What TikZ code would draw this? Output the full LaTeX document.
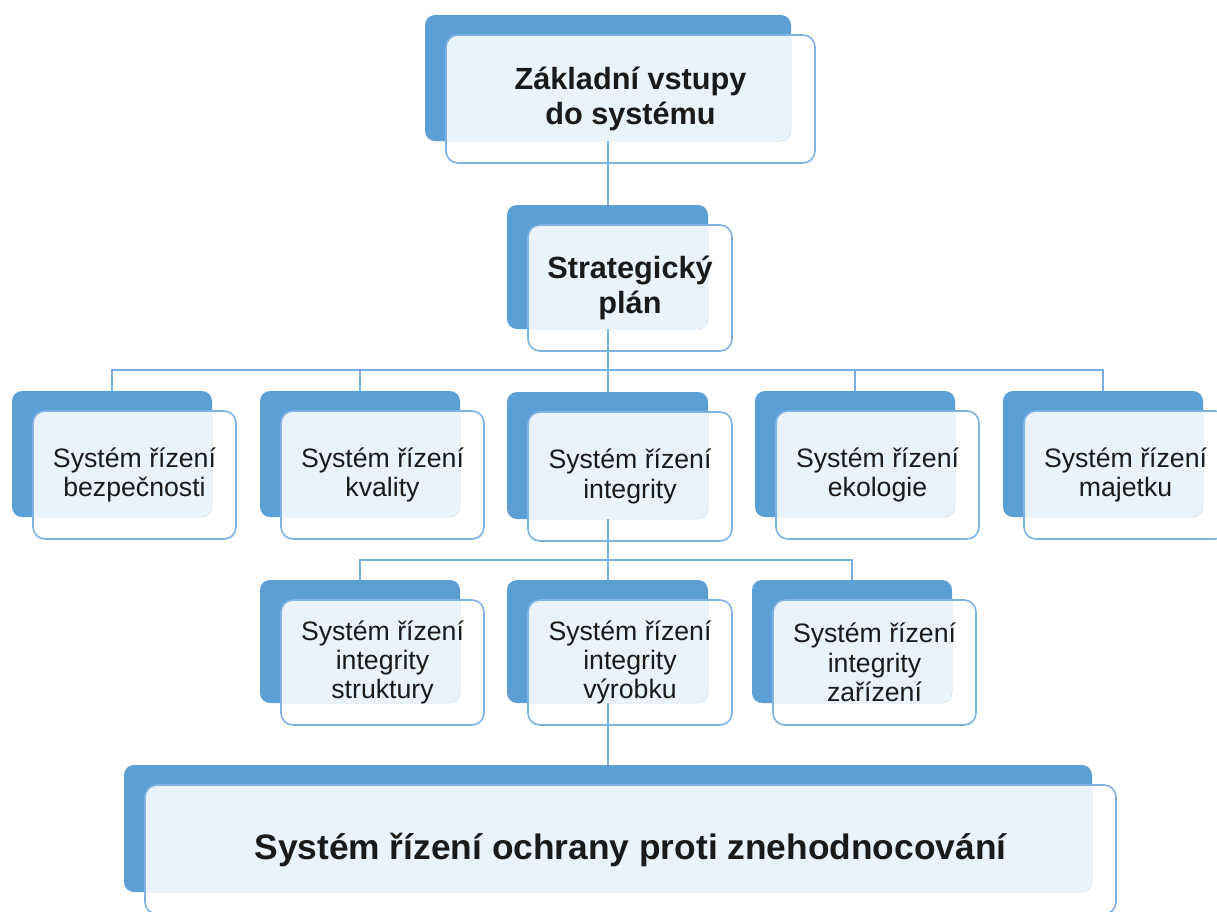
\documentclass[tikz,border=0pt]{standalone}
\usepackage{fontspec}
\setmainfont{Liberation Sans}
\usetikzlibrary{fit,calc}
\pgfdeclarelayer{bg}
\pgfsetlayers{bg,main}
\definecolor{backblue}{HTML}{5B9FD4}
\definecolor{lightfill}{HTML}{EAF2FA}
\definecolor{frontline}{HTML}{7FB3E3}
\definecolor{connline}{HTML}{7AAEDF}
\definecolor{txtcol}{HTML}{1A1A1A}
\tikzset{
  backbox/.style={fill=backblue, draw=none, rounded corners=7.5pt, inner sep=0pt},
  frontbox/.style={draw=frontline, line width=1.2pt, rounded corners=9pt, inner sep=0pt},
  conn/.style={draw=connline, line width=1.5pt},
  txtsmall/.style={text=txtcol, align=center, font=\fontsize{20}{22}\selectfont},
  txtbig/.style={text=txtcol, align=center, font=\fontsize{23}{26}\selectfont\bfseries},
  txthuge/.style={text=txtcol, align=center, font=\fontsize{26.5}{30}\selectfont\bfseries},
}
% name, back x1, y1, x2, y2, text style, text
\newcommand\elem[7]{%
  \node[backbox, fit={(#2,#3) (#4,#5)}] (b#1) {};
  \begin{scope}
    \clip[rounded corners=7.5pt] (#2,#3) rectangle (#4,#5);
    \fill[lightfill, rounded corners=9pt] (#2+21,#3+20) rectangle (#4+24,#5+22);
  \end{scope}
  \node[frontbox, fit={(#2+21,#3+20) (#4+24,#5+22)}] (f#1) {};
  \node[#6] (t#1) at (f#1.center) {#7};
}
\begin{document}
\begin{tikzpicture}[x=0.75pt,y=-0.75pt]
\useasboundingbox (0,0) rectangle (1217,911);

\elem{Top}{425}{15}{791}{141}{txtbig}{Základní vstupy\\do systému}
\elem{Strat}{507}{205}{708}{329}{txtbig}{Strategický\\plán}

\elem{Bez}{12}{391}{212}{517}{txtsmall}{Systém řízení\\bezpečnosti}
\elem{Kva}{260}{391}{460}{517}{txtsmall}{Systém řízení\\kvality}
\elem{Int}{507}{392}{708}{519}{txtsmall}{Systém řízení\\integrity}
\elem{Eko}{755}{391}{955}{517}{txtsmall}{Systém řízení\\ekologie}
\elem{Maj}{1003}{391}{1203}{517}{txtsmall}{Systém řízení\\majetku}

\elem{Str}{260}{580}{460}{703}{txtsmall}{Systém řízení\\integrity\\struktury}
\elem{Vyr}{507}{580}{708}{703}{txtsmall}{Systém řízení\\integrity\\výrobku}
\elem{Zar}{752}{580}{952}{703}{txtsmall}{Systém řízení\\integrity\\zařízení}

\elem{Bot}{124}{765}{1092}{892}{txthuge}{Systém řízení ochrany proti znehodnocování}

\begin{pgfonlayer}{bg}
  \fill[white] (0,0) rectangle (1217,911);
  \draw[conn] (bStrat.north) -- (bStrat.north |- bTop.south);
  \coordinate (bus1) at (607.5,370);
  \draw[conn] (bStrat.south) -- (bus1);
  \foreach \c in {Bez,Kva,Int,Eko,Maj} { \draw[conn] (bus1) -| (b\c.north); }
  \coordinate (bus2) at (607.5,560);
  \draw[conn] (bInt.south) -- (bus2);
  \foreach \c in {Str,Vyr,Zar} { \draw[conn] (bus2) -| (b\c.north); }
  \draw[conn] (bVyr.south) -- (bVyr.south |- bBot.north);
\end{pgfonlayer}
\end{tikzpicture}
\end{document}
